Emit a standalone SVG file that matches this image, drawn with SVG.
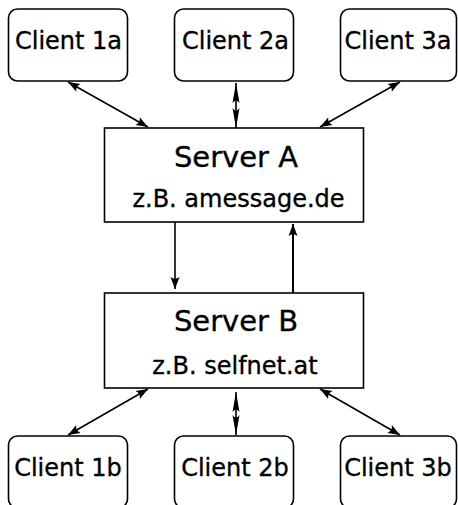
<svg xmlns="http://www.w3.org/2000/svg" width="458" height="505" viewBox="0 0 458 505">
<style>
.client{fill:#fff;stroke:#000;stroke-width:1.6}
.server{fill:#fff;stroke:#000;stroke-width:1.6}
.t{font-family:"DejaVu Sans","Liberation Sans",sans-serif;fill:#000;stroke:#000;stroke-width:0.35;text-anchor:middle}
.ct{font-size:24px}
.st{font-size:29px}
.sub{font-size:24px}
.c{fill:none;stroke:#000;stroke-width:1.6}
</style>
<defs>
<marker id="ah" viewBox="-13 -6 14 12" refX="0" refY="0" markerWidth="14" markerHeight="12" markerUnits="userSpaceOnUse" orient="auto-start-reverse">
<path d="M0,0 L-12,-4.5 Q-8.5,0 -12,4.5 Z" fill="#000"/>
</marker>
<marker id="ahv" viewBox="-21 -5 22 10" refX="0" refY="0" markerWidth="22" markerHeight="10" markerUnits="userSpaceOnUse" orient="auto-start-reverse">
<path d="M0,0 L-20,-3.5 Q-15,0 -20,3.5 Z" fill="#000"/>
</marker>
</defs>
<g id="connectors">
<path class="c" d="M68,82 L148,127" marker-start="url(#ah)" marker-end="url(#ah)"/>
<path class="c" d="M236,83 L236,128" marker-start="url(#ahv)" marker-end="url(#ahv)"/>
<path class="c" d="M400,82 L320,127" marker-start="url(#ah)" marker-end="url(#ah)"/>
<path class="c" d="M175,222 L175,289" marker-end="url(#ah)"/>
<path class="c" style="stroke-width:2" d="M293,293 L293,224" marker-end="url(#ah)"/>
<path class="c" d="M148,389 L68,435" marker-start="url(#ah)" marker-end="url(#ah)"/>
<path class="c" d="M236,392 L236,435" marker-start="url(#ahv)" marker-end="url(#ahv)"/>
<path class="c" d="M320,389 L400,435" marker-start="url(#ah)" marker-end="url(#ah)"/>
</g>
<g id="client1a"><rect class="client" x="8.5" y="9" width="119" height="72" rx="9"/><text class="t ct" x="68.5" y="49">Client 1a</text></g>
<g id="client2a"><rect class="client" x="174.5" y="9" width="119" height="72" rx="9"/><text class="t ct" x="235.5" y="49">Client 2a</text></g>
<g id="client3a"><rect class="client" x="340.5" y="9" width="116" height="72" rx="9"/><text class="t ct" x="398" y="49">Client 3a</text></g>
<g id="serverA"><rect class="server" x="104.5" y="128" width="259" height="94"/><text class="t st" x="236" y="167">Server A</text><text class="t sub" x="238.5" y="207">z.B. amessage.de</text></g>
<g id="serverB"><rect class="server" x="104.5" y="293" width="259" height="95"/><text class="t st" x="236" y="331">Server B</text><text class="t sub" x="235" y="374">z.B. selfnet.at</text></g>
<g id="client1b"><rect class="client" x="8.5" y="436" width="119" height="72" rx="9"/><text class="t ct" x="68" y="476">Client 1b</text></g>
<g id="client2b"><rect class="client" x="174.5" y="436" width="119" height="72" rx="9"/><text class="t ct" x="235" y="476">Client 2b</text></g>
<g id="client3b"><rect class="client" x="340.5" y="436" width="116" height="72" rx="9"/><text class="t ct" x="398" y="476">Client 3b</text></g>
</svg>
